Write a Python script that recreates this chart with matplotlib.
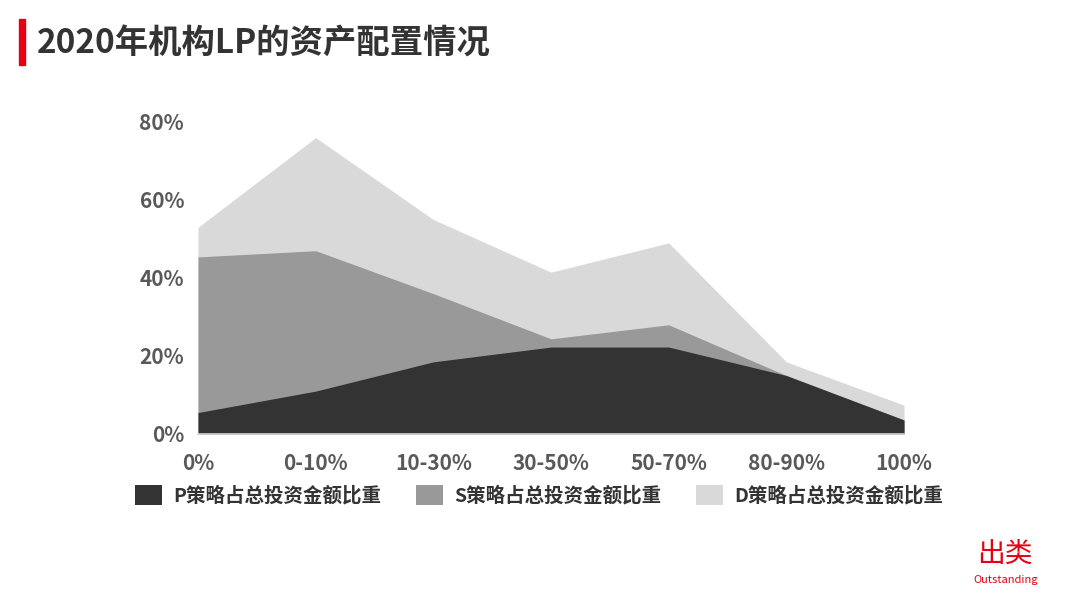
import matplotlib
matplotlib.use("Agg")
import matplotlib.pyplot as plt
from matplotlib.patches import Patch, Rectangle

plt.rcParams['font.family'] = ['Noto Sans CJK SC', 'DejaVu Sans']

categories = ["0%", "0-10%", "10-30%", "30-50%", "50-70%", "80-90%", "100%"]
p_values = [5.5, 11, 18.5, 22.3, 22.3, 15, 3.6]
s_values = [45.4, 47, 36, 24.4, 28, 15, 3.6]
d_values = [53, 76, 55, 41.5, 49, 18.5, 7.4]
series_names = ["P策略占总投资金额比重", "S策略占总投资金额比重", "D策略占总投资金额比重"]
y_ticks = [0, 20, 40, 60, 80]
title = "2020年机构LP的资产配置情况"

colors = ["#333333", "#999999", "#D9D9D9"]
text_color = "#595959"

W, H = 1080, 608
fig = plt.figure(figsize=(W / 100, H / 100), dpi=100)
ax = fig.add_axes([198 / W, 1 - 434 / H, (904 - 198) / W, (434 - 122) / H])

x = list(range(len(categories)))
for vals, col, z in [(d_values, colors[2], 1), (s_values, colors[1], 2), (p_values, colors[0], 3)]:
    ax.fill_between(x, 0, vals, color=col, linewidth=0, zorder=z)

ax.set_xlim(0, len(categories) - 1)
ax.set_ylim(0, 80)
ax.set_yticks(y_ticks)
ax.set_yticklabels([f"{v}%" for v in y_ticks])
ax.set_xticks(x)
ax.set_xticklabels(categories)
ax.tick_params(axis='both', length=0, labelsize=15, labelcolor=text_color)
ax.tick_params(axis='y', pad=10)
ax.tick_params(axis='x', pad=14)
for lbl in ax.get_xticklabels() + ax.get_yticklabels():
    lbl.set_fontweight('bold')
for s in ['top', 'right', 'left']:
    ax.spines[s].set_visible(False)
ax.spines['bottom'].set_color('#D9D9D9')
ax.spines['bottom'].set_linewidth(1.2)
ax.spines['bottom'].set_zorder(5)

# title and red bar
fig.patches.append(Rectangle((19 / W, 1 - 65 / H), 6 / W, 46 / H, transform=fig.transFigure,
                             color="#E60012", zorder=5))
fig.text(37 / W, 1 - 44 / H, title, fontsize=24, fontweight='bold', color="#333333",
         ha='left', va='center')

handles = [Patch(facecolor=c, edgecolor='none') for c in colors]
fig.legend(handles, series_names, loc='center', bbox_to_anchor=(539 / W, 1 - 495 / H),
           ncol=3, frameon=False, handlelength=1.4, handleheight=1.25,
           columnspacing=1.75, handletextpad=0.6,
           prop={'weight': 'bold', 'size': 14})
for t in fig.legends[0].get_texts():
    t.set_color("#333333")

# logo
fig.text(1005 / W, 1 - 554 / H, "出类", fontsize=20, color="#E60012", ha='center', va='center')
fig.text(1006 / W, 1 - 580 / H, "Outstanding", fontsize=8, color="#E60012", ha='center', va='center')

fig.savefig("out.png", dpi=100, facecolor='white')
